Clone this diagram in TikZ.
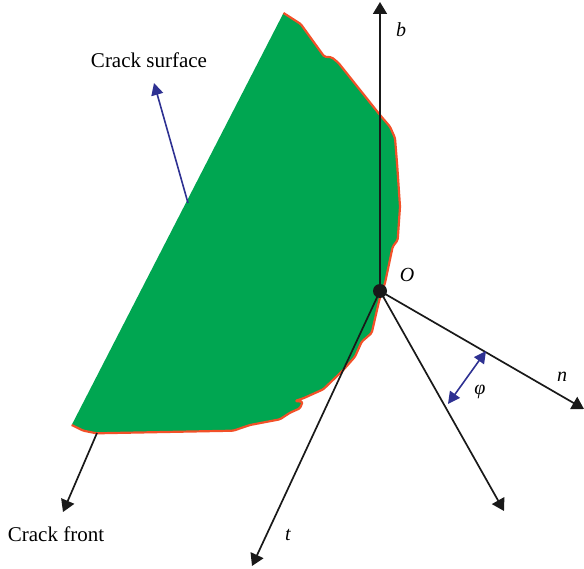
\documentclass[tikz,border=0pt]{standalone}
\usepackage{fontspec}
\setmainfont{Liberation Serif}
\usetikzlibrary{arrows.meta}
\definecolor{crackgreen}{RGB}{0,166,81}
\definecolor{crackred}{RGB}{242,80,40}
\definecolor{crackblue}{RGB}{46,49,146}
\newcommand{\crackedge}{(283.5,13) -- (300.7,24) -- (324.3,56.7) -- (331.7,57.3) -- (338.3,62.7) -- (380,115) -- (390,126.7) -- (395,138) -- (397.3,166.7) -- (400,206.7) -- (397.7,240) -- (392.7,246.7) -- (385,283) -- (379.3,300) -- (371.7,333) -- (361.7,341.7) -- (355,356.7) -- (343.3,370) -- (323.3,389.3) -- (303.3,398.3) -- (295,401) -- (302.7,401.7) -- (300,408.3) -- (290,412.7) -- (280,419.3) -- (250,425) -- (233.3,430.7) -- (96.7,433.3) -- (83.3,430.7) -- (71.7,425)}
\tikzset{
	axis/.style={line width=1.7pt, draw=black!90, -{Triangle[length=12pt,width=14pt]}},
	pointer/.style={line width=1.6pt, draw=crackblue, -{Triangle[length=12pt,width=12pt]}},
	label/.style={font=\fontsize{21}{23}\selectfont},
	symbol/.style={font=\fontsize{20}{22}\selectfont\itshape}
}
\begin{document}
\begin{tikzpicture}[x=1pt,y=-1pt]
	\useasboundingbox (0,0) rectangle (584,569);

	\fill[crackgreen] \crackedge -- cycle;
	\draw[crackred, line width=2.2pt, line join=round, rounded corners=1.5pt] \crackedge;

	\node[circle, fill=black!90, inner sep=0pt, minimum size=14pt] (O) at (380,291) {};
	\coordinate (b) at (380,2);
	\coordinate (t) at (252,566);
	\coordinate (n) at (584,409);
	\coordinate (m) at (504,511);
	\coordinate (f1) at (97,433);
	\coordinate (f2) at (63,512);
	\coordinate (s1) at (188,203);
	\coordinate (s2) at (154,83);
	\coordinate (p1) at (486,351);
	\coordinate (p2) at (448,404);

	\draw[axis] (O.center) -- (b);
	\draw[axis] (O.center) -- (t);
	\draw[axis] (O.center) -- (n);
	\draw[axis] (O.center) -- (m);
	\draw[axis] (f1) -- (f2);
	\draw[pointer] (s1) -- (s2);
	\draw[pointer, {Triangle[length=12pt,width=12pt]}-{Triangle[length=12pt,width=12pt]}] (p1) -- (p2);

	\node[label] (surface) at (149,60) {Crack surface};
	\node[label] (front) at (56,534) {Crack front};
	\node[symbol] (lb) at (401,30) {b};
	\node[symbol] (lO) at (407,275) {O};
	\node[symbol] (ln) at (562,377) {n};
	\node[symbol] (lt) at (288,535) {t};
	\node[symbol] (lphi) at (480,392) {φ};
\end{tikzpicture}
\end{document}
